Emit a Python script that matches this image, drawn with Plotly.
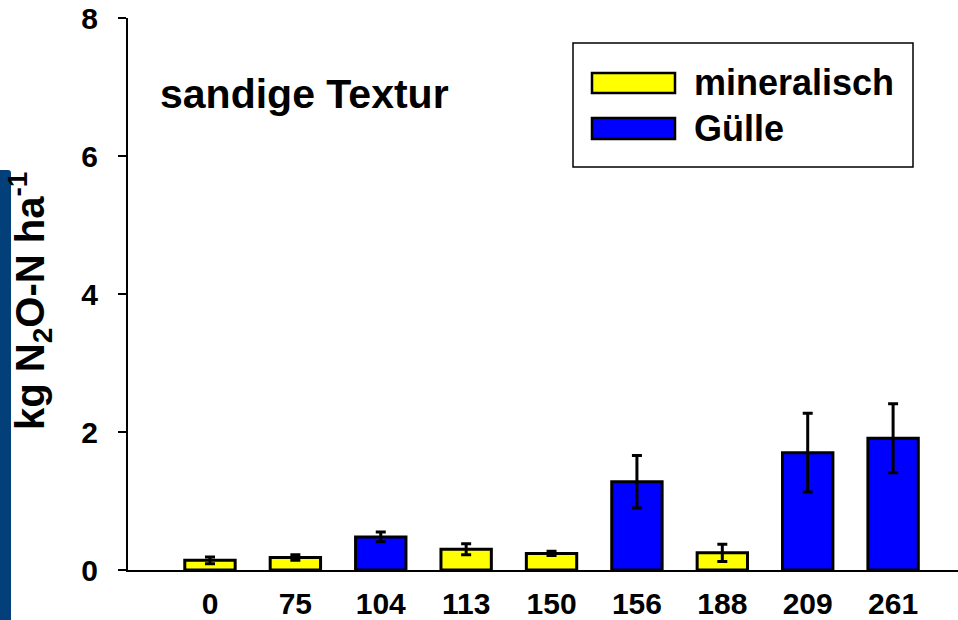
import plotly.graph_objects as go

# ---- data ----
categories = ["0", "75", "104", "113", "150", "156", "188", "209", "261"]
n2o_values = [0.14, 0.18, 0.48, 0.30, 0.24, 1.28, 0.25, 1.70, 1.91]
n2o_errors = [0.05, 0.04, 0.07, 0.08, 0.03, 0.38, 0.125, 0.57, 0.50]
fert_type = ["mineralisch", "mineralisch", "Gülle", "mineralisch", "mineralisch",
             "Gülle", "mineralisch", "Gülle", "Gülle"]
series_names = ["mineralisch", "Gülle"]
series_colors = {"mineralisch": "#FFFF00", "Gülle": "#0000FF"}
y_ticks = [0, 2, 4, 6, 8]

FONT = "Liberation Sans, Arial, Helvetica, sans-serif"

W, H = 958, 620
L, R, T, B = 128, 958, 18, 570   # plot area in pixels


def px_x(p):
    return (p - L) / (R - L)


def px_y(p):
    return (B - p) / (B - T)


fig = go.Figure()
for name in series_names:
    idx = [i for i, t in enumerate(fert_type) if t == name]
    fig.add_trace(go.Bar(
        x=idx,
        y=[n2o_values[i] for i in idx],
        name=name,
        width=0.59,
        marker=dict(color=series_colors[name], line=dict(color="black", width=3)),
        error_y=dict(type="data", array=[n2o_errors[i] for i in idx],
                     color="black", thickness=3, width=5),
        showlegend=False,
    ))

shapes = []
# dark blue strip at the left edge (slide decoration)
shapes.append(dict(type="path", xref="paper", yref="paper",
                   path=(f"M {px_x(0)},{px_y(622)} L {px_x(0)},{px_y(170)} "
                         f"L {px_x(8)},{px_y(170)} Q {px_x(11)},{px_y(170)} {px_x(11)},{px_y(173)} "
                         f"L {px_x(11)},{px_y(622)} Z"),
                   fillcolor="#03407A", line=dict(width=0), layer="above"))
# legend box
shapes.append(dict(type="rect", xref="paper", yref="paper",
                   x0=px_x(573), x1=px_x(913), y0=px_y(167), y1=px_y(43),
                   line=dict(color="black", width=1.5), fillcolor="white", layer="above"))
legend_rows = [(73, 93, 83), (118, 139, 128)]
annotations = []
for name, (ya, yb, yc) in zip(series_names, legend_rows):
    shapes.append(dict(type="rect", xref="paper", yref="paper",
                       x0=px_x(592), x1=px_x(675), y0=px_y(yb), y1=px_y(ya),
                       line=dict(color="black", width=2.5),
                       fillcolor=series_colors[name], layer="above"))
    annotations.append(dict(xref="paper", yref="paper", x=px_x(692), y=px_y(yc),
                            xanchor="left", yanchor="middle", showarrow=False,
                            text=name, font=dict(family=FONT, size=36, color="black", weight="bold")))

annotations.append(dict(xref="paper", yref="paper", x=px_x(158), y=px_y(94),
                        xanchor="left", yanchor="middle", showarrow=False,
                        text="sandige Textur",
                        font=dict(family=FONT, size=41, color="black", weight="bold")))
annotations.append(dict(xref="paper", yref="paper", x=px_x(30), y=px_y(301),
                        xanchor="center", yanchor="middle", showarrow=False, textangle=-90,
                        text="kg N<sub>2</sub>O-N ha<sup>-1</sup>",
                        font=dict(family=FONT, size=40, color="black", weight="bold")))

fig.update_layout(
    width=W, height=H,
    margin=dict(l=L, r=W - R, t=T, b=H - B, pad=0, autoexpand=False),
    paper_bgcolor="white", plot_bgcolor="white",
    barmode="overlay",
    showlegend=False,
    shapes=shapes,
    annotations=annotations,
    xaxis=dict(range=[-0.96, 8.76], tickmode="array", tickvals=list(range(len(categories))),
               ticktext=categories, showline=True, linecolor="black", linewidth=2,
               ticks="", ticklen=0, showgrid=False, zeroline=False, fixedrange=True,
               automargin=False,
               tickfont=dict(family=FONT, size=30, color="black", weight="bold"),
               ticklabelstandoff=6),
    yaxis=dict(range=[0, 8], tickmode="array", tickvals=y_ticks,
               showline=True, linecolor="black", linewidth=2,
               ticks="outside", ticklen=8, tickwidth=2, tickcolor="black",
               showgrid=False, zeroline=False, fixedrange=True, automargin=False,
               tickfont=dict(family=FONT, size=30, color="black", weight="bold"),
               ticklabelstandoff=14),
)

fig.write_html(
    "out.html",
    config={"displayModeBar": False},
    post_script="document.body.style.margin='0';document.body.style.overflow='hidden';",
)
